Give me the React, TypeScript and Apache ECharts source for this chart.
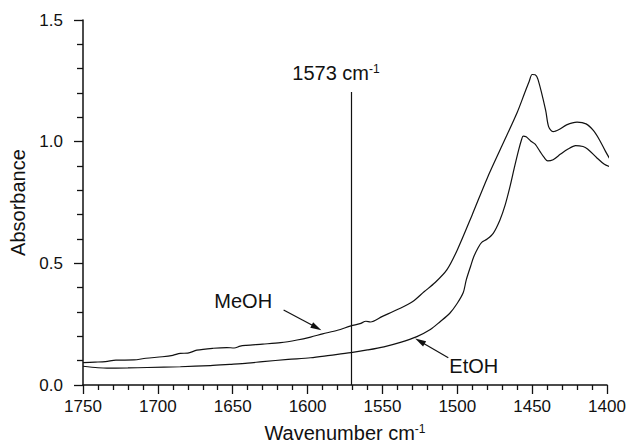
import React, { useEffect, useRef } from "react";
import * as echarts from "echarts";

// MeOH spectrum (wavenumber cm-1, absorbance)
const meohWavenumber = [
  1750, 1742, 1735, 1728, 1716, 1708, 1697, 1690, 1685, 1680, 1674, 1663, 1654, 1649, 1645, 1641,
  1630, 1618, 1607, 1598, 1590, 1580, 1571, 1565, 1561, 1558, 1550, 1540, 1530, 1522, 1515, 1507,
  1500, 1490, 1480, 1470, 1460, 1455, 1452, 1450, 1448, 1446, 1441, 1439, 1436, 1432, 1427, 1420,
  1414, 1409, 1405, 1401, 1398,
];
const meohAbsorbance = [
  0.092, 0.094, 0.096, 0.102, 0.103, 0.11, 0.116, 0.122, 0.13, 0.131, 0.143, 0.151, 0.154, 0.152, 0.16, 0.163,
  0.168, 0.174, 0.185, 0.197, 0.21, 0.225, 0.243, 0.252, 0.262, 0.259, 0.282, 0.31, 0.342, 0.384, 0.42, 0.473,
  0.555, 0.7, 0.85, 0.985, 1.12, 1.2, 1.247, 1.276, 1.275, 1.254, 1.13, 1.062, 1.041, 1.05, 1.069, 1.08,
  1.073, 1.045, 1.007, 0.96, 0.928,
];

// EtOH spectrum
const etohWavenumber = [
  1750, 1740, 1734, 1720, 1707, 1685, 1665, 1652, 1640, 1630, 1613, 1598, 1585, 1571, 1560, 1549,
  1538, 1527, 1518, 1511.5, 1505, 1500, 1496, 1494, 1491, 1489, 1486, 1483.7, 1480, 1476, 1471.5, 1468,
  1464.8, 1462, 1459, 1457, 1456, 1454, 1451, 1448, 1444.7, 1442, 1439.6, 1436, 1431, 1426, 1421, 1416,
  1413, 1407, 1402, 1398,
];
const etohAbsorbance = [
  0.077, 0.071, 0.069, 0.07, 0.072, 0.075, 0.08, 0.085, 0.09, 0.096, 0.105, 0.112, 0.122, 0.133, 0.144, 0.157,
  0.175, 0.199, 0.228, 0.26, 0.295, 0.336, 0.38, 0.432, 0.49, 0.527, 0.565, 0.586, 0.6, 0.623, 0.678, 0.74,
  0.815, 0.89, 0.966, 1.01, 1.023, 1.02, 1.003, 0.99, 0.959, 0.935, 0.921, 0.926, 0.949, 0.97, 0.984, 0.98,
  0.97, 0.935, 0.908, 0.897,
];

// Axis settings
const xMin = 1400;
const xMax = 1750;
const xInterval = 50;
const yMin = 0;
const yMax = 1.5;
const yInterval = 0.5;

// Marker line at the reported band
const markerWavenumber = 1571;
const markerTop = 1.204;
const markerText = "1573 cm";

// Annotations (label text, label anchor, arrow start, arrow tip)
const annotationNames = ["MeOH", "EtOH"];
const annotationTextAt = [
  [1643, 0.345],
  [1489, 0.078],
];
const annotationArrowFrom = [
  [1616, 0.308],
  [1506, 0.112],
];
const annotationArrowTo = [
  [1594, 0.236],
  [1525, 0.18],
];

const FONT = "'Liberation Sans', Arial, Helvetica, sans-serif";
const INK = "#111111";

export default function App() {
  const ref = useRef<HTMLDivElement>(null);

  useEffect(() => {
    if (!ref.current) return;
    const chart = echarts.init(ref.current, undefined, { renderer: "svg" });

    const meohData = meohWavenumber.map((w, i) => [w, meohAbsorbance[i]]);
    const etohData = etohWavenumber.map((w, i) => [w, etohAbsorbance[i]]);

    const lineStyle = { color: INK, width: 1.2 };

    chart.setOption({
      animation: false,
      backgroundColor: "#ffffff",
      grid: {
        left: 83,
        right: 21,
        top: 20,
        bottom: 59,
        containLabel: false,
        outerBoundsMode: "none",
      },
      xAxis: {
        type: "value",
        inverse: true,
        min: xMin,
        max: xMax,
        interval: xInterval,
        name: "Wavenumber cm{sup|-1}",
        nameLocation: "middle",
        nameGap: 38,
        nameTextStyle: {
          color: INK,
          fontSize: 20,
          fontFamily: FONT,
          lineHeight: 20,
          rich: {
            sup: { fontSize: 12, lineHeight: 6, verticalAlign: "top", fontFamily: FONT, color: INK },
          },
        },
        axisLine: { show: true, onZero: false, lineStyle: { color: INK, width: 1.5 } },
        axisTick: { show: true, inside: false, length: 9, lineStyle: { color: INK, width: 1.3 } },
        minorTick: { show: true, splitNumber: 5, length: 5, lineStyle: { color: INK, width: 1.3 } },
        splitLine: { show: false },
        minorSplitLine: { show: false },
        axisLabel: {
          color: INK,
          fontSize: 17,
          fontFamily: FONT,
          margin: 13,
          formatter: (v: number) => String(v),
        },
      },
      yAxis: {
        type: "value",
        min: yMin,
        max: yMax,
        interval: yInterval,
        name: "Absorbance",
        nameLocation: "middle",
        nameGap: 53,
        nameTextStyle: { color: INK, fontSize: 20, fontFamily: FONT, lineHeight: 20 },
        axisLine: { show: true, onZero: false, lineStyle: { color: INK, width: 1.5 } },
        axisTick: { show: true, inside: false, length: 9, lineStyle: { color: INK, width: 1.3 } },
        minorTick: { show: true, splitNumber: 5, length: 6, lineStyle: { color: INK, width: 1.3 } },
        splitLine: { show: false },
        minorSplitLine: { show: false },
        axisLabel: {
          color: INK,
          fontSize: 17,
          fontFamily: FONT,
          margin: 20,
          formatter: (v: number) => v.toFixed(1),
        },
      },
      series: [
        {
          name: "MeOH",
          type: "line",
          data: meohData,
          showSymbol: false,
          smooth: 0.3,
          clip: false,
          lineStyle,
          itemStyle: { color: INK },
          silent: true,
          markLine: {
            silent: true,
            symbol: ["none", "none"],
            lineStyle: { color: INK, width: 1.2, type: "solid" },
            label: {
              show: true,
              position: "end",
              distance: 9,
              offset: [-15, 0],
              formatter: () => markerText + "{sup|-1}",
              color: INK,
              fontSize: 20,
              fontFamily: FONT,
              lineHeight: 20,
              rich: {
                sup: { fontSize: 12, lineHeight: 6, verticalAlign: "top", fontFamily: FONT, color: INK },
              },
            },
            emphasis: { disabled: true },
            data: [
              [
                { coord: [markerWavenumber, 0] },
                { coord: [markerWavenumber, markerTop] },
              ],
            ],
          },
        },
        {
          name: "EtOH",
          type: "line",
          data: etohData,
          showSymbol: false,
          smooth: 0.3,
          clip: false,
          lineStyle,
          itemStyle: { color: INK },
          silent: true,
          markLine: {
            silent: true,
            symbol: ["none", "triangle"],
            symbolSize: [6, 11],
            lineStyle: { color: INK, width: 1.2, type: "solid" },
            itemStyle: { color: INK },
            label: { show: false },
            emphasis: { disabled: true },
            data: annotationArrowFrom.map((from, i) => [
              { coord: from },
              { coord: annotationArrowTo[i] },
            ]),
          },
          markPoint: {
            silent: true,
            symbol: "rect",
            symbolSize: 1,
            itemStyle: { color: "rgba(0,0,0,0)" },
            label: {
              show: true,
              position: "inside",
              color: INK,
              fontSize: 20,
              fontFamily: FONT,
              formatter: (p: any) => p.name,
            },
            emphasis: { disabled: true },
            data: annotationNames.map((n, i) => ({ name: n, coord: annotationTextAt[i] })),
          },
        },
      ],
    });

    return () => chart.dispose();
  }, []);

  return (
    <div
      ref={ref}
      style={{ position: "fixed", left: 0, top: 0, width: 628, height: 444, background: "#fff" }}
    />
  );
}
